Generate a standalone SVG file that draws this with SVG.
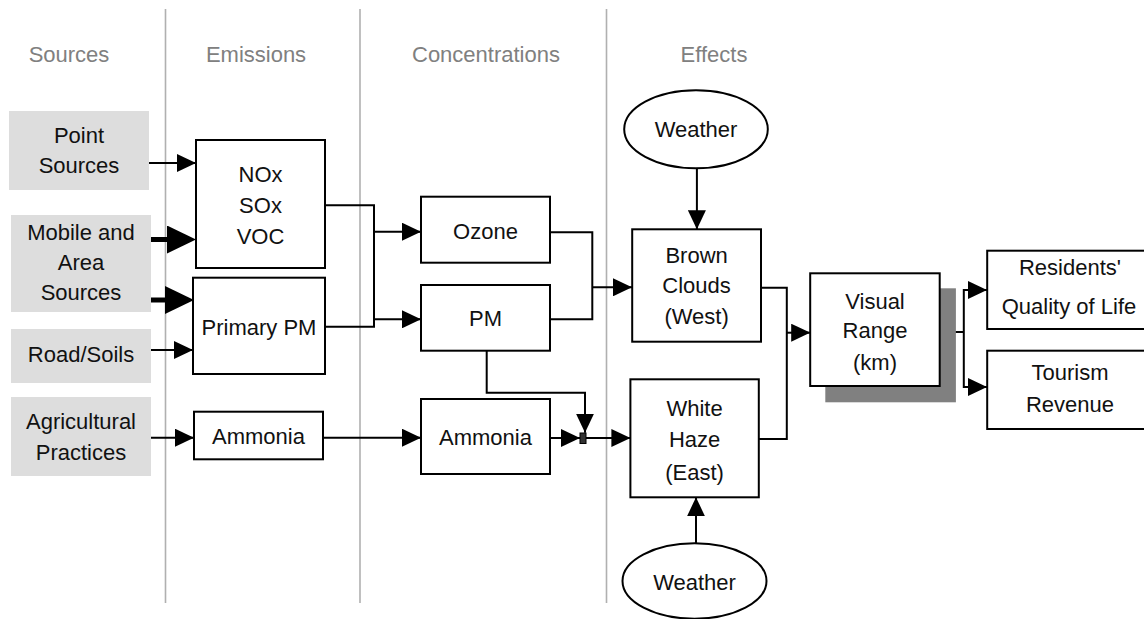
<svg xmlns="http://www.w3.org/2000/svg" width="1144" height="619" viewBox="0 0 1144 619">
<style>
text{font-family:"Liberation Sans",Arial,sans-serif;font-size:22px;fill:#111;text-anchor:middle}
.hdr{fill:#808080}
.src{fill:#dddddd;stroke:none}
.box{fill:#fff;stroke:#000;stroke-width:2}
.ell{fill:#fff;stroke:#000;stroke-width:2}
.lane{stroke:#b0b0b0;stroke-width:1.6;fill:none}
.c{fill:none;stroke:#000;stroke-width:2}
.a{marker-end:url(#ah)}
.thick{fill:none;stroke:#000;stroke-width:5;marker-end:url(#ahb)}
</style>
<defs>
<marker id="ah" markerUnits="userSpaceOnUse" viewBox="0 0 19 18" refX="19" refY="9" markerWidth="19" markerHeight="18" orient="auto">
<path d="M0,0 L19,9 L0,18 z" fill="#000"/>
</marker>
<marker id="ahb" markerUnits="userSpaceOnUse" viewBox="0 0 29 28" refX="0" refY="14" markerWidth="29" markerHeight="28" orient="auto">
<path d="M0,0 L29,14 L0,28 z" fill="#000"/>
</marker>
</defs>

<g id="lanes">
<line class="lane" x1="165.5" y1="9" x2="165.5" y2="603"/>
<line class="lane" x1="360" y1="9" x2="360" y2="603"/>
<line class="lane" x1="606.5" y1="9" x2="606.5" y2="603"/>
<text class="hdr" x="69" y="62">Sources</text>
<text class="hdr" x="256" y="62">Emissions</text>
<text class="hdr" x="486" y="62">Concentrations</text>
<text class="hdr" x="714" y="62">Effects</text>
</g>

<g id="connectors">
<path class="c a" d="M149,163 H196"/>
<path class="thick" d="M151,239.5 H167"/>
<path class="thick" d="M151,300 H165"/>
<path class="c a" d="M151,350 H193"/>
<path class="c a" d="M151,437.7 H194"/>
<path class="c" d="M325,205.3 H374 V326.7 H325"/>
<path class="c a" d="M374,231.7 H421"/>
<path class="c a" d="M374,319.3 H421"/>
<path class="c a" d="M323,437.7 H421"/>
<path class="c" d="M550,232.3 H592.3 V319.3 H550"/>
<path class="c a" d="M592.3,287.3 H632"/>
<path class="c a" d="M486.7,350.7 V392.7 H585 V432.7"/>
<path class="c a" d="M550,438 H580"/>
<path class="c a" d="M586,438 H630.4"/>
<path class="c" d="M761,287.7 H786.8 V439 H758.8"/>
<path class="c a" d="M786.8,332.7 H810.2"/>
<path class="c" d="M939.7,332 H963.8"/>
<path class="c a" d="M963.8,332 V290 H987"/>
<path class="c a" d="M963.8,332 V387 H987"/>
<path class="c a" d="M696.9,168.3 V229.3"/>
<path class="c a" d="M696,543.3 V497.3"/>
</g>

<g id="point-sources">
<rect class="src" x="9" y="111" width="140" height="79"/>
<text x="79" y="143">Point</text>
<text x="79" y="173">Sources</text>
</g>
<g id="mobile-area-sources">
<rect class="src" x="11" y="215" width="140" height="97"/>
<text x="81" y="240">Mobile and</text>
<text x="81" y="269.5">Area</text>
<text x="81" y="300">Sources</text>
</g>
<g id="road-soils">
<rect class="src" x="11" y="329" width="140" height="54"/>
<text x="81" y="362">Road/Soils</text>
</g>
<g id="agricultural-practices">
<rect class="src" x="11" y="397" width="140" height="79"/>
<text x="81" y="428.5">Agricultural</text>
<text x="81" y="459.5">Practices</text>
</g>

<g id="nox-sox-voc">
<rect class="box" x="196" y="140" width="129" height="128"/>
<text x="260.5" y="182">NOx</text>
<text x="260.5" y="212.5">SOx</text>
<text x="260.5" y="243.5">VOC</text>
</g>
<g id="primary-pm">
<rect class="box" x="193" y="277.7" width="132" height="96.3"/>
<text x="259" y="335">Primary PM</text>
</g>
<g id="ammonia-emission">
<rect class="box" x="194" y="411.7" width="129" height="47.6"/>
<text x="258.5" y="443.5">Ammonia</text>
</g>

<g id="ozone">
<rect class="box" x="421" y="196.7" width="129" height="66"/>
<text x="485.5" y="238.5">Ozone</text>
</g>
<g id="pm">
<rect class="box" x="421" y="285" width="129" height="65.7"/>
<text x="485.5" y="326">PM</text>
</g>
<g id="ammonia-concentration">
<rect class="box" x="421" y="399" width="129" height="75"/>
<text x="485.5" y="445">Ammonia</text>
</g>
<g id="junction">
<rect x="580" y="433" width="6" height="10.5" fill="#333" stroke="#000" stroke-width="1"/>
</g>

<g id="weather-top">
<ellipse class="ell" cx="696" cy="129.2" rx="71.8" ry="39"/>
<text x="696" y="136.5">Weather</text>
</g>
<g id="brown-clouds">
<rect class="box" x="632.2" y="229.3" width="128.8" height="112.4"/>
<text x="696.6" y="263">Brown</text>
<text x="696.6" y="293">Clouds</text>
<text x="696.6" y="323.5">(West)</text>
</g>
<g id="white-haze">
<rect class="box" x="630.4" y="379.3" width="128.4" height="118"/>
<text x="694.6" y="416">White</text>
<text x="694.6" y="447">Haze</text>
<text x="694.6" y="479.5">(East)</text>
</g>
<g id="weather-bottom">
<ellipse class="ell" cx="694.5" cy="581" rx="72" ry="37.7"/>
<text x="694.5" y="590">Weather</text>
</g>

<g id="visual-range">
<rect x="825.3" y="288.3" width="130.6" height="114" fill="#808080"/>
<rect class="box" x="810.2" y="273.3" width="129.5" height="112.7"/>
<text x="875" y="308.5">Visual</text>
<text x="875" y="337.5">Range</text>
<text x="875" y="369.5">(km)</text>
</g>

<g id="residents-quality-of-life">
<rect class="box" x="987.2" y="250.7" width="170" height="78.3"/>
<text x="1070" y="275">Residents'</text>
<text x="1069" y="313.5">Quality of Life</text>
</g>
<g id="tourism-revenue">
<rect class="box" x="987.2" y="350.7" width="170" height="78.3"/>
<text x="1070" y="380">Tourism</text>
<text x="1070" y="412">Revenue</text>
</g>
</svg>
